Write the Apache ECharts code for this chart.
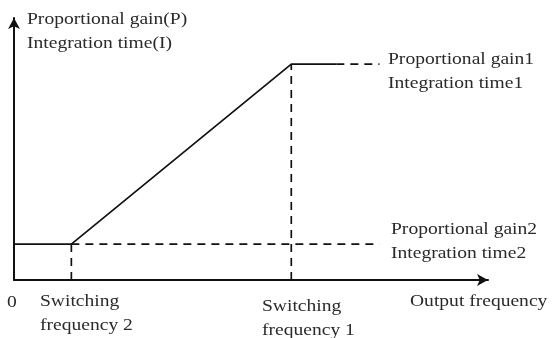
<!DOCTYPE html>
<html>
<head>
<meta charset="utf-8">
<style>
  html, body { margin: 0; padding: 0; background: #ffffff; }
  #chart { width: 555px; height: 338px; }
</style>
<script src="https://cdn.jsdelivr.net/npm/echarts@6/dist/echarts.min.js"></script>
</head>
<body>
<div id="chart"></div>
<script>
// frequency positions (axis units 0..100)
var switchFreqs = [12.1, 58.5];      // switching frequency 2, switching frequency 1
var holdEnd = 68;                    // end of solid part at high level
var dashEnd = 77.1;                  // end of dashed extensions
// gain levels (axis units 0..100)
var gainLevels = [13.7, 82.4];       // gain2 / gain1

var curve = [
  [0, gainLevels[0]],
  [switchFreqs[0], gainLevels[0]],
  [switchFreqs[1], gainLevels[1]],
  [holdEnd, gainLevels[1]]
];
var highDash = [[holdEnd, gainLevels[1]], [dashEnd, gainLevels[1]]];
var lowDash = [[switchFreqs[0], gainLevels[0]], [dashEnd, gainLevels[0]]];
var vert2 = [[switchFreqs[0], 0], [switchFreqs[0], gainLevels[0]]];
var vert1 = [[switchFreqs[1], 0], [switchFreqs[1], gainLevels[1]]];

var font = "Liberation Serif";
var txtColor = "#2a2a2a";

function solid(data) {
  return {
    type: "line", data: data, symbol: "none", silent: true,
    lineStyle: { color: "#111", width: 1.7 }
  };
}
function dashed(data) {
  return {
    type: "line", data: data, symbol: "none", silent: true,
    lineStyle: { color: "#111", width: 1.7, type: [8, 6] }
  };
}
// text is a little wider in the scan, so stretch it horizontally
function label(text, x, y) {
  return {
    type: "text", x: x, y: y, scaleX: 1.15, scaleY: 1,
    style: {
      x: 0, y: 0, text: text, fill: txtColor, font: "17px " + font,
      textAlign: "left", textVerticalAlign: "top", lineHeight: 24
    }
  };
}

var chart = echarts.init(document.getElementById("chart"));
var option = {
  animation: false,
  backgroundColor: "#ffffff",
  grid: { left: 14, right: 67, top: 18, bottom: 58 },
  xAxis: {
    type: "value", min: 0, max: 100,
    axisLine: { show: true, lineStyle: { color: "#111", width: 2 },
      symbol: ["none", "arrow"], symbolSize: [9, 11] },
    axisTick: { show: false }, axisLabel: { show: false },
    splitLine: { show: false }
  },
  yAxis: {
    type: "value", min: 0, max: 100,
    axisLine: { show: true, lineStyle: { color: "#111", width: 2 },
      symbol: ["none", "arrow"], symbolSize: [9, 11] },
    axisTick: { show: false }, axisLabel: { show: false },
    splitLine: { show: false }
  },
  series: [
    solid(curve),
    dashed(highDash),
    dashed(lowDash),
    dashed(vert2),
    dashed(vert1)
  ],
  graphic: [
    label("Proportional gain(P)\nIntegration time(I)", 27, 8),
    label("Proportional gain1\nIntegration time1", 388, 48),
    label("Proportional gain2\nIntegration time2", 391, 218),
    label("0", 7, 291),
    label("Switching\nfrequency 2", 40, 290),
    label("Switching\nfrequency 1", 262, 295),
    label("Output frequency", 410, 290)
  ]
};
chart.setOption(option);
</script>
</body>
</html>
